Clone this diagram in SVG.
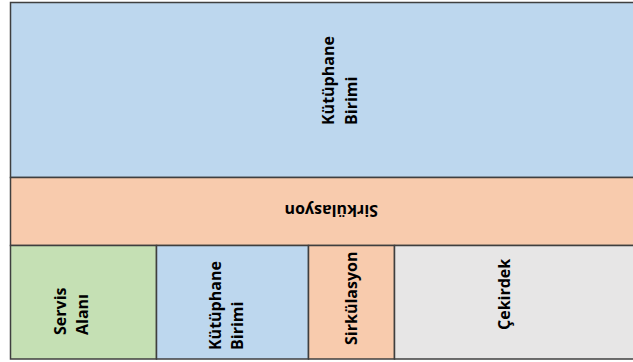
<svg xmlns="http://www.w3.org/2000/svg" width="633" height="362" viewBox="0 0 633 362">
<style>
.cell{stroke:#3f3f3f;stroke-width:1.5}
.blue{fill:#BDD7EE}
.orange{fill:#F8CBAD}
.green{fill:#C5E0B4}
.gray{fill:#E7E6E6}
.lbl{font-family:"Open Sans","Noto Sans","Liberation Sans",sans-serif;font-weight:bold;font-size:16px;fill:#000}
</style>
<rect x="0" y="0" width="633" height="362" fill="#ffffff"/>
<g id="kutuphane-top">
<rect class="cell blue" x="10.5" y="2.5" width="640" height="175"/>
<text class="lbl" transform="translate(334,125) rotate(-90)">Kütüphane</text>
<text class="lbl" transform="translate(357,125) rotate(-90)">Birimi</text>
</g>
<g id="sirkulasyon-band">
<rect class="cell orange" x="10.5" y="177.5" width="640" height="68"/>
<text class="lbl" transform="translate(378,204.5) rotate(180)">Sirkülasyon</text>
</g>
<g id="servis">
<rect class="cell green" x="10.5" y="245.5" width="146" height="113.5"/>
<text class="lbl" transform="translate(66,335) rotate(-90)">Servis</text>
<text class="lbl" transform="translate(88,335) rotate(-90)">Alanı</text>
</g>
<g id="kutuphane-bottom">
<rect class="cell blue" x="156.5" y="245.5" width="152" height="113.5"/>
<text class="lbl" transform="translate(221,350) rotate(-90)">Kütüphane</text>
<text class="lbl" transform="translate(243,350) rotate(-90)">Birimi</text>
</g>
<g id="sirkulasyon-bottom">
<rect class="cell orange" x="308.5" y="245.5" width="86" height="113.5"/>
<text class="lbl" transform="translate(357,345) rotate(-90)">Sirkülasyon</text>
</g>
<g id="cekirdek">
<rect class="cell gray" x="394.5" y="245.5" width="256" height="113.5"/>
<text class="lbl" transform="translate(510,330) rotate(-90)">Çekirdek</text>
</g>
<g id="connectors"></g>
</svg>
